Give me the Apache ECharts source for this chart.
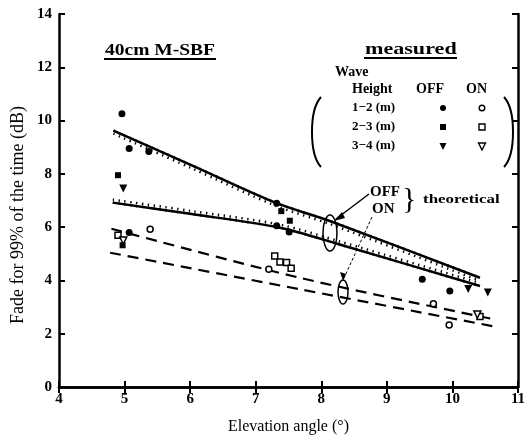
<!DOCTYPE html>
<html><head><meta charset="utf-8">
<script src="https://cdn.jsdelivr.net/npm/echarts@6/dist/echarts.min.js"></script>
<style>html,body{margin:0;padding:0;background:#fff}#c{width:530px;height:440px}</style>
</head><body><div id="c"></div>
<script>
// ---- data ----
const xTicks = [4, 5, 6, 7, 8, 9, 10, 11];
const yTicks = [0, 2, 4, 6, 8, 10, 12, 14];
// theoretical curves
const offTheory = [[4.83, 9.62], [6.0, 8.35], [7.3, 6.92], [8.13, 6.23], [10.42, 4.1]];
const onTheory = [[4.82, 6.92], [6.0, 6.5], [7.37, 5.98], [8.28, 5.35], [10.42, 3.79]];
const dashUpper = [[4.8, 5.94], [7.67, 4.1], [10.62, 2.55]];
const dashLower = [[4.78, 5.04], [7.67, 3.67], [10.62, 2.28]];
// measured, OFF (filled)
const off12 = [[4.96, 10.26], [5.07, 8.95], [5.37, 8.84], [5.07, 5.8], [7.32, 6.9], [7.32, 6.05], [7.51, 5.82], [9.54, 4.04], [9.96, 3.6]];
const off23 = [[4.9, 7.95], [4.97, 5.32], [7.39, 6.6], [7.52, 6.24]];
const off34 = [[4.98, 7.45], [10.24, 3.68], [10.54, 3.55]];
// measured, ON (open)
const on12 = [[5.39, 5.92], [7.2, 4.42], [9.71, 3.12], [9.95, 2.33]];
const on23 = [[4.9, 5.7], [7.29, 4.92], [7.37, 4.69], [7.47, 4.67], [7.54, 4.46], [10.42, 2.65]];
const on34 = [[4.98, 5.5], [10.38, 2.72]];

const F = 'Liberation Serif';
const chart = echarts.init(document.getElementById('c'));

function lineS(data, extra) {
  return Object.assign({ type: 'line', data: data, symbol: 'none', smooth: 0.3, silent: true,
    lineStyle: { color: '#000', width: 2.5 } }, extra || {});
}
function pts(data, symbol, size, filled, rot) {
  return { type: 'scatter', data: data, symbol: symbol, symbolSize: size, symbolRotate: rot || 0, z: 5,
    itemStyle: filled ? { color: '#000', opacity: 1 } : { color: '#fff', borderColor: '#000', borderWidth: 1.5, opacity: 1 } };
}
const txt = (x, y, s, size, extra, sx) => ({ type: 'text', x: x, y: y, z: 10, scaleX: sx || 1,
  style: Object.assign({ text: s, font: 'bold ' + size + 'px "' + F + '"', fill: '#000', textVerticalAlign: 'middle' }, extra || {}) });
const ln = (x1, y1, x2, y2, w, dash) => ({ type: 'line', z: 10, shape: { x1, y1, x2, y2 },
  style: { stroke: '#000', lineWidth: w || 1.5, lineDash: dash || null } });

const tickStyle = { inside: true, length: 6, lineStyle: { color: '#000', width: 2 } };
const lineStyleAx = { lineStyle: { color: '#000', width: 2.5 } };
chart.setOption({
  animation: false,
  grid: { left: 59, right: 12, top: 14, bottom: 52 },
  xAxis: [{
    type: 'value', min: xTicks[0], max: xTicks[xTicks.length - 1], interval: 1,
    name: 'Elevation angle (°)', nameLocation: 'middle', nameGap: 32,
    nameTextStyle: { fontFamily: F, fontSize: 16, color: '#000' },
    axisLine: lineStyleAx, axisTick: tickStyle,
    axisLabel: { fontFamily: F, fontWeight: 'bold', fontSize: 15, color: '#000', margin: 5 },
    splitLine: { show: false }
  }, {
    type: 'value', position: 'top', min: xTicks[0], max: xTicks[xTicks.length - 1], interval: 1,
    axisLine: lineStyleAx, axisTick: tickStyle,
    axisLabel: { show: false }, splitLine: { show: false }
  }],
  yAxis: [{
    type: 'value', min: yTicks[0], max: yTicks[yTicks.length - 1], interval: 2,
    axisLine: lineStyleAx, axisTick: tickStyle,
    axisLabel: { fontFamily: F, fontWeight: 'bold', fontSize: 15, color: '#000', margin: 7 },
    splitLine: { show: false }
  }, {
    type: 'value', position: 'right', min: yTicks[0], max: yTicks[yTicks.length - 1], interval: 2,
    axisLine: lineStyleAx, axisTick: tickStyle,
    axisLabel: { show: false }, splitLine: { show: false }
  }],
  series: [
    // hatching (drawn under main lines, shadow gives one-sided ticks)
    lineS(offTheory, { z: 1, lineStyle: { color: '#000', width: 2.5, type: [1.4, 4.5], shadowColor: '#000', shadowBlur: 0, shadowOffsetY: 3 } }),
    lineS(offTheory, { z: 2 }),
    lineS(onTheory, { z: 1, lineStyle: { color: '#000', width: 2.5, type: [1.4, 4.5], shadowColor: '#000', shadowBlur: 0, shadowOffsetY: -3 } }),
    lineS(onTheory, { z: 2 }),
    lineS(dashUpper, { lineStyle: { color: '#000', width: 2.2, type: [11, 7] } }),
    lineS(dashLower, { lineStyle: { color: '#000', width: 2.2, type: [11, 7] } }),
    pts(off12, 'circle', 7, true),
    pts(off23, 'rect', 6, true),
    pts(off34, 'triangle', 8, true, 180),
    pts(on12, 'circle', 6, false),
    pts(on23, 'rect', 6, false),
    pts(on34, 'triangle', 7, false, 180)
  ],
  graphic: [
    { type: 'text', x: 18, y: 215, rotation: Math.PI / 2, z: 10,
      style: { text: 'Fade for 99% of the time (dB)', font: '18px "' + F + '"', fill: '#000', textAlign: 'center', textVerticalAlign: 'middle' } },
    txt(105, 51, '40cm M-SBF', 16, null, 1.22),
    ln(104, 59, 216, 59, 2),
    txt(365, 50, 'measured', 17, null, 1.3),
    ln(364, 58, 457, 58, 2),
    txt(335, 72, 'Wave', 14),
    txt(352, 89, 'Height', 14),
    txt(416, 89, 'OFF', 14),
    txt(466, 89, 'ON', 14),
    txt(352, 108, '1−2 (m)', 13),
    txt(352, 127, '2−3 (m)', 13),
    txt(352, 146, '3−4 (m)', 13),
    { type: 'circle', z: 10, shape: { cx: 443, cy: 108, r: 3 }, style: { fill: '#000' } },
    { type: 'circle', z: 10, shape: { cx: 482, cy: 108, r: 2.8 }, style: { fill: '#fff', stroke: '#000', lineWidth: 1.4 } },
    { type: 'rect', z: 10, shape: { x: 440, y: 124, width: 6, height: 6 }, style: { fill: '#000' } },
    { type: 'rect', z: 10, shape: { x: 479, y: 124, width: 6, height: 6 }, style: { fill: '#fff', stroke: '#000', lineWidth: 1.4 } },
    { type: 'polygon', z: 10, shape: { points: [[439.5, 143], [446.5, 143], [443, 150]] }, style: { fill: '#000' } },
    { type: 'polygon', z: 10, shape: { points: [[478.5, 143], [485.5, 143], [482, 150]] }, style: { fill: '#fff', stroke: '#000', lineWidth: 1.4 } },
    // brackets
    { type: 'bezierCurve', z: 10, shape: { x1: 321, y1: 97, x2: 321, y2: 167, cpx1: 309, cpy1: 110, cpx2: 309, cpy2: 154 }, style: { stroke: '#000', lineWidth: 2, fill: null } },
    { type: 'bezierCurve', z: 10, shape: { x1: 504, y1: 97, x2: 504, y2: 167, cpx1: 516, cpy1: 110, cpx2: 516, cpy2: 154 }, style: { stroke: '#000', lineWidth: 2, fill: null } },
    // theoretical label
    txt(370, 192, 'OFF', 15),
    txt(372, 209, 'ON', 15),
    txt(402, 200, '}', 30, { font: '30px "' + F + '"' }),
    txt(423, 200, 'theoretical', 13, null, 1.3),
    // ellipses and leaders
    { type: 'ellipse', z: 10, shape: { cx: 330, cy: 233, rx: 7, ry: 18 }, style: { stroke: '#000', lineWidth: 1.5, fill: null } },
    { type: 'ellipse', z: 10, shape: { cx: 343, cy: 292, rx: 5, ry: 12 }, style: { stroke: '#000', lineWidth: 1.5, fill: null } },
    ln(369, 194, 336, 219, 1.5),
    { type: 'polygon', z: 10, shape: { points: [[334, 221], [342, 212], [345, 218]] }, style: { fill: '#000' } },
    ln(372, 217, 344, 278, 1, [3, 2]),
    { type: 'polygon', z: 10, shape: { points: [[343, 281], [340, 272], [346, 274]] }, style: { fill: '#000' } }
  ]
});
</script></body></html>
